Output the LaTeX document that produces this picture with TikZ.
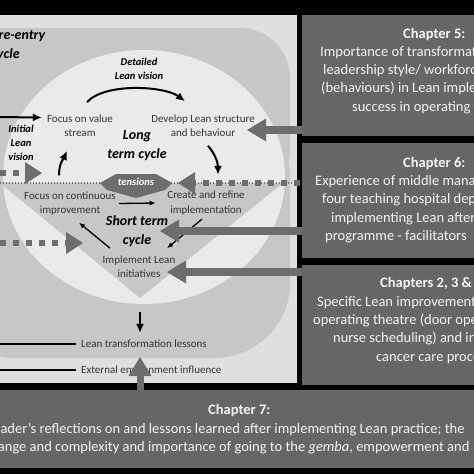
\documentclass[tikz,border=0pt]{standalone}
\usepackage{fontspec}
\setmainfont{Carlito}
\usetikzlibrary{arrows.meta}

\definecolor{panelgray}{HTML}{DFDFDF}
\definecolor{cyclegray}{HTML}{C7C7C7}
\definecolor{ovalgray}{HTML}{EAEAEA}
\definecolor{boxgray}{HTML}{666666}
\definecolor{arrowgray}{HTML}{6D6D6D}
\definecolor{labelgray}{HTML}{333333}
\definecolor{chtext}{HTML}{F4F4F4}

\tikzset{
  lbl/.style={inner sep=0pt, align=center, text=labelgray, font=\fontsize{11}{14.5}\selectfont},
  vislbl/.style={inner sep=0pt, align=center, font=\fontsize{10.5}{14}\selectfont\bfseries\itshape},
  cyclbl/.style={inner sep=0pt, align=center, font=\fontsize{14}{19}\selectfont\bfseries\itshape},
  chbox/.style={fill=boxgray, inner sep=0pt, anchor=north west},
  chhead/.style={inner sep=0pt, anchor=base west, text=chtext, font=\fontsize{14.5}{18}\selectfont\bfseries},
  chline/.style={inner sep=0pt, anchor=base west, text=chtext, font=\fontsize{14.5}{18}\selectfont},
  bigarrow/.style={arrowgray, line width=8pt, -{Triangle[length=19pt,width=23pt,line width=0pt]}},
  sqline/.style={arrowgray, line width=6pt, dash pattern=on 6pt off 7pt, -{Triangle[length=17pt,width=22pt,line width=0pt]}},
  dotline/.style={arrowgray, line width=1.3pt, dash pattern=on 1.3pt off 1.7pt},
  blackarrow/.style={line width=2pt, -{Latex[length=9pt,width=8pt]}},
  thinarrow/.style={line width=1.3pt, -{Latex[length=6pt,width=5pt]}}
}

\begin{document}
\begin{tikzpicture}[x=1pt,y=-1pt]
\useasboundingbox (0,0) rectangle (474,474);
\clip (0,0) rectangle (474,474);
% backdrop and left panel
\fill[black] (0,0) rectangle (474,474);
\fill[panelgray] (0,15) rectangle (297,383);

% pre-entry area, long term oval, short term triangle
\fill[cyclegray, rounded corners=50pt] (-60,28) rectangle (290,200);
\fill[cyclegray, rounded corners=75pt] (-60,100) rectangle (290,358);
\fill[ovalgray] (144,177) ellipse [x radius=141pt, y radius=127pt];
\fill[cyclegray] (0,183) -- (283,183) -- (140,298) -- cycle;

% chapter boxes
\node[chbox, minimum width=180pt, minimum height=121pt] (ch5) at (302,15) {};
\node[chbox, minimum width=180pt, minimum height=115pt] (ch6) at (302,143) {};
\node[chbox, minimum width=180pt, minimum height=120pt] (ch234) at (302,265) {};
\node[chbox, minimum width=474pt, minimum height=78pt] (ch7) at (0,390) {};

\node[chhead] (c5h) at (403,38) {Chapter 5:};
\node[chline] (c5a) at (320,56.5) {Importance of transformational};
\node[chline] (c5b) at (323,74.5) {leadership style/ workforce};
\node[chline] (c5c) at (321,92.5) {(behaviours) in Lean implementation};
\node[chline] (c5d) at (352,111.5) {success in operating theatre};

\node[chhead] (c6h) at (403,167.5) {Chapter 6:};
\node[chline] (c6a) at (315,185.5) {Experience of middle managers in};
\node[chline] (c6b) at (322,203.5) {four teaching hospital departments};
\node[chline] (c6c) at (331,222.5) {implementing Lean after};
\node[chline] (c6d) at (325,240.5) {programme - facilitators};

\node[chhead] (c234h) at (380,287.5) {Chapters 2, 3 \& 4:};
\node[chline] (c234a) at (317,306.5) {Specific Lean improvements in};
\node[chline] (c234b) at (313,324.5) {operating theatre (door opening,};
\node[chline] (c234c) at (333,342.5) {nurse scheduling) and in};
\node[chline] (c234d) at (376,361.5) {cancer care process};

\node[chhead] (c7h) at (208,414.5) {Chapter 7:};
\node[chline] (c7a) at (-13,433.5) {Leader’s reflections on and lessons learned after implementing Lean practice; the};
\node[chline] (c7b) at (-16,451.5) {change and complexity and importance of going to the \textit{gemba}, empowerment and};

% tensions line
\draw[dotline] (0,183) -- (297,183);
\coordinate (tipd) at (178,183);
\draw[sqline] ([xshift=-2pt]ch6.west |- tipd) -- (tipd);
\fill[arrowgray] (100,183) -- (116,174) -- (156,174) -- (172,183) -- (165,190) -- (136,198) -- (107,190) -- cycle;
\node[vislbl, text=white] (tens) at (136,182) {tensions};

% labels
\node[cyclbl, anchor=base west, align=left] (pre) at (-9,58) {Pre-entry\\cycle};
\node[vislbl] (detail) at (139,69) {Detailed\\Lean vision};
\node[vislbl] (initial) at (21,143) {Initial\\Lean\\vision};
\node[lbl] (vs) at (80,125.5) {Focus on value\\stream};
\node[lbl] (dls) at (203,125.5) {Develop Lean structure\\and behaviour};
\node[cyclbl] (longc) at (137,146) {Long\\term cycle};
\node[lbl] (fci) at (70,203.5) {Focus on continuous\\improvement};
\node[lbl] (cri) at (206,203) {Create and refine\\implementation};
\node[cyclbl] (shortc) at (137,231.5) {Short term\\cycle};
\node[lbl] (ili) at (139,266.5) {Implement Lean\\initiatives};
\node[lbl, anchor=west] (lessons) at (81,344) {Lean transformation lessons};
\node[lbl, anchor=west] (extinf) at (81,370) {External environment influence};

% long term cycle
\coordinate (entry) at (-5,117);
\draw[blackarrow] (entry) -- ([shift={(-5,-8)}]vs.west);
\draw[blackarrow] ([shift={(7,-12)}]vs.north) .. controls +(18,-20) and +(-20,-15) .. ([shift={(-18,-13)}]dls.north);
\draw[blackarrow] ([shift={(5,9)}]dls.south) .. controls +(7,8) and +(0,-12) .. ([shift={(12,-16)}]cri.north);
\draw[blackarrow] ([shift={(-11,-16)}]fci.north) .. controls +(0,-12) and +(-4,9) .. ([shift={(-13,14)}]vs.south);

% short term cycle
\draw[thinarrow] ([xshift=3pt]fci.east) -- ([xshift=-11.5pt]cri.west);
\draw[thinarrow] ([shift={(-4,4)}]cri.south) -- ([shift={(28,-7)}]ili.north);
\draw[thinarrow] ([shift={(-29,-7)}]ili.north) -- ([shift={(9,7)}]fci.south);

% lessons and environment
\draw[blackarrow] ([shift={(1,34)}]ili.south) -- ([shift={(1,-7)}]ili.south |- lessons.north);
\draw[line width=2pt] ([xshift=-5pt]lessons.west) -- ++(-90,0);
\draw[line width=2pt] ([xshift=-5pt]extinf.west) -- ++(-90,0);

% dotted inputs from the left
\coordinate (sqa) at (0,173);
\coordinate (tipa) at (42,173);
\draw[sqline] (sqa) -- (tipa);
\coordinate (sqb) at (0,243);
\coordinate (tipb) at (83,243);
\draw[sqline] (sqb) -- (tipb);

% chapter arrows
\coordinate (tip5) at (247,130);
\coordinate (tip6) at (160,231);
\coordinate (tip234) at (167,272);
\coordinate (tip7) at (140,357);
\draw[bigarrow] (ch5.west |- tip5) -- (tip5);
\draw[bigarrow] (ch6.west |- tip6) -- (tip6);
\draw[bigarrow] (ch234.west |- tip234) -- (tip234);
\draw[bigarrow, line width=7pt] (ch7.north -| tip7) -- (tip7);
\end{tikzpicture}
\end{document}
